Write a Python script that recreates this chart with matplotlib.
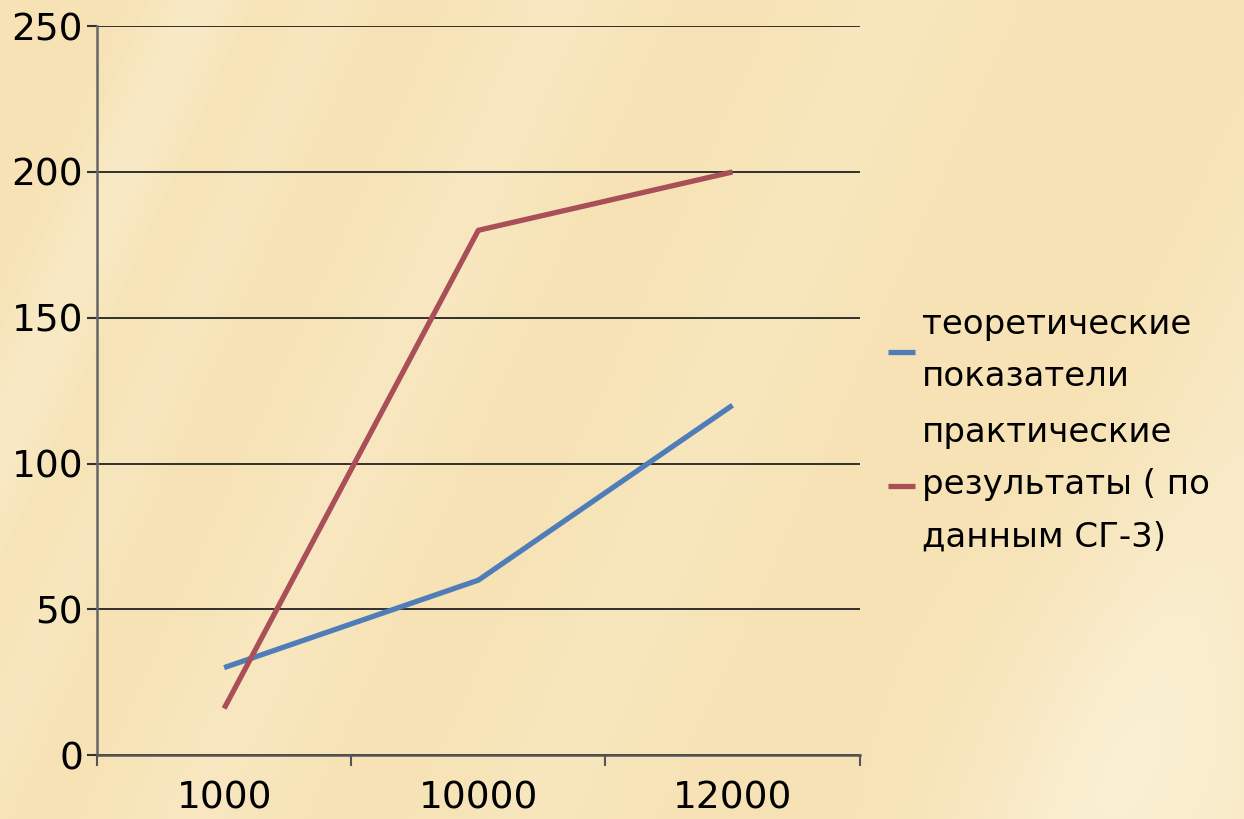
import numpy as np
import matplotlib.pyplot as plt

# Данные
categorias = ['1000', '10000', '12000']
teoria = [30, 60, 120]
practica = [16, 180, 200]
nombres = ['теоретические\nпоказатели', 'практические\nрезультаты ( по\nданным СГ-3)']

plt.rcParams['font.family'] = ['DejaVu Sans']

fig = plt.figure(figsize=(12.44, 8.19), dpi=100)

# Fondo beige con rayas claras
bg = fig.add_axes([0, 0, 1, 1])
h, w = 819, 1244
yy, xx = np.mgrid[0:h, 0:w]
base = np.array([246, 226, 180]) / 255.0
claro = np.array([251, 240, 212]) / 255.0
luz = np.zeros((h, w))
for c, s, a in [(200, 50, 0.55), (330, 40, 0.3), (560, 90, 0.35), (900, 110, 0.25), (1450, 120, 0.5)]:
    d = (xx + 0.45 * yy - c)
    luz += a * np.exp(-(d / s) ** 2)
luz += 0.6 * np.exp(-((xx - 1244) ** 2 + (yy - 819) ** 2) / 180 ** 2 / 2)
luz = np.clip(luz, 0, 1)
img = base[None, None, :] * (1 - luz[..., None]) + claro[None, None, :] * luz[..., None]
bg.imshow(img, aspect='auto', extent=[0, 1, 0, 1])
bg.axis('off')

ax = fig.add_axes([0.078, 0.078, 0.613, 0.890])
ax.patch.set_alpha(0)

x = np.arange(len(categorias))
l1, = ax.plot(x, teoria, color='#4F7DB8', lw=3.8, solid_capstyle='butt', label=nombres[0])
l2, = ax.plot(x, practica, color='#A94F58', lw=3.8, solid_capstyle='butt', label=nombres[1])

ax.set_ylim(0, 250)
ax.set_yticks([0, 50, 100, 150, 200, 250])
ax.set_xlim(-0.5, 2.5)
ax.set_xticks([-0.5, 0.5, 1.5, 2.5])
ax.set_xticklabels([])
ax.set_xticks(x, minor=True)
ax.set_xticklabels(categorias, minor=True)
ax.tick_params(axis='x', which='minor', length=0, pad=18, labelsize=27)
ax.tick_params(axis='x', which='major', length=8, width=1.5, color='#555555', direction='out')
ax.tick_params(axis='y', length=7, width=1.5, color='#333333', pad=3, labelsize=27)

ax.grid(axis='y', color='#222222', lw=1.3)
ax.set_axisbelow(True)
for s in ['top', 'right']:
    ax.spines[s].set_visible(False)
ax.spines['left'].set_color('#666666')
ax.spines['left'].set_linewidth(1.8)
ax.spines['bottom'].set_color('#555555')
ax.spines['bottom'].set_linewidth(1.8)

leg = ax.legend(handles=[l1, l2], loc='center left', bbox_to_anchor=(1.037, 0.445), frameon=False,
                fontsize=24.5, handlelength=0.8, handletextpad=0.2, labelspacing=0.65,
                borderaxespad=0, borderpad=0)
for t in leg.get_texts():
    t.set_linespacing(1.75)

fig.savefig('out.png', dpi=100)
